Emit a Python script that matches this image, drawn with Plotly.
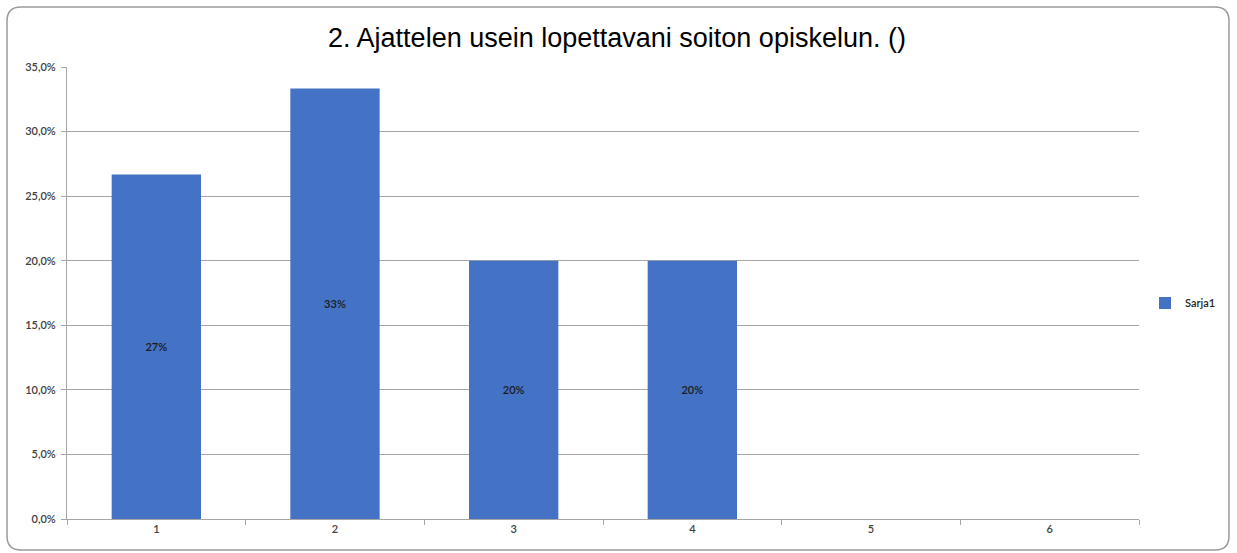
import plotly.graph_objects as go

categories = ["1", "2", "3", "4", "5", "6"]
shares = [0.2667, 0.3333, 0.20, 0.20, 0.0, 0.0]
series_name = "Sarja1"
title_text = "2. Ajattelen usein lopettavani soiton opiskelun. ()"
y_ticks = [0, 0.05, 0.10, 0.15, 0.20, 0.25, 0.30, 0.35]

W, H = 1237, 553
ML, MR, MT, MB = 67, 98, 67, 34
PW, PH = W - ML - MR, H - MT - MB

def px_x(x):
    return (x - ML) / PW

def px_y(y):
    return (H - MB - y) / PH

BLUE = "#4472C4"
GRID = "#a6a6a6"
LABEL_FONT = "Lato, Open Sans, sans-serif"

labels = [f"{round(v * 100)}%" if v > 0 else "" for v in shares]

fig = go.Figure()
fig.add_trace(go.Bar(
    x=categories,
    y=shares,
    name=series_name,
    marker=dict(color=BLUE, line=dict(width=0)),
    text=labels,
    textposition="inside",
    insidetextanchor="middle",
    textfont=dict(family=LABEL_FONT, size=11, color="#1a1a1a", weight=600),
    showlegend=True,
))

# rounded outer frame of the chart
x0, x1 = px_x(7), px_x(1229)
y0, y1 = px_y(550), px_y(7)
rx, ry = 14 / PW, 14 / PH
path = (
    f"M {x0 + rx},{y1} L {x1 - rx},{y1} Q {x1},{y1} {x1},{y1 - ry} "
    f"L {x1},{y0 + ry} Q {x1},{y0} {x1 - rx},{y0} "
    f"L {x0 + rx},{y0} Q {x0},{y0} {x0},{y0 + ry} "
    f"L {x0},{y1 - ry} Q {x0},{y1} {x0 + rx},{y1} Z"
)
fig.add_shape(type="path", path=path, xref="paper", yref="paper",
              line=dict(color="#9a9a9a", width=1.5), fillcolor="rgba(0,0,0,0)", layer="above")

fig.update_layout(
    width=W, height=H,
    margin=dict(l=ML, r=MR, t=MT, b=MB, autoexpand=False),
    paper_bgcolor="white",
    plot_bgcolor="white",
    separators=", ",
    bargap=0.5,
    title=dict(
        text=title_text,
        font=dict(family="Liberation Sans, Arial, sans-serif", size=27, color="#000000"),
        x=617 / W, xref="container", xanchor="center",
        y=1 - 38 / H, yref="container", yanchor="middle",
    ),
    legend=dict(
        xref="container", yref="container",
        x=1145 / W, y=1 - 303 / H, xanchor="left", yanchor="middle",
        font=dict(family=LABEL_FONT, size=11, color="#262626", weight=600),
        itemwidth=30, bgcolor="rgba(0,0,0,0)",
    ),
    font=dict(family=LABEL_FONT, size=11, color="#262626"),
)

fig.update_xaxes(
    type="category",
    showgrid=False,
    showline=True, linecolor=GRID, linewidth=1,
    ticks="outside", tickson="boundaries", ticklen=5, tickcolor=GRID,
    tickfont=dict(size=11, weight=600, color="#404040"),
    fixedrange=True,
)
fig.update_yaxes(
    range=[0, 0.35],
    tickvals=y_ticks,
    tickformat=".1%",
    showgrid=True, gridcolor=GRID, gridwidth=1,
    showline=True, linecolor=GRID, linewidth=1,
    ticks="outside", ticklen=5, tickcolor=GRID,
    tickfont=dict(size=11, weight=600, color="#404040"),
    ticklabelstandoff=3,
    zeroline=False,
    fixedrange=True,
)

fig.write_html("out.html")
